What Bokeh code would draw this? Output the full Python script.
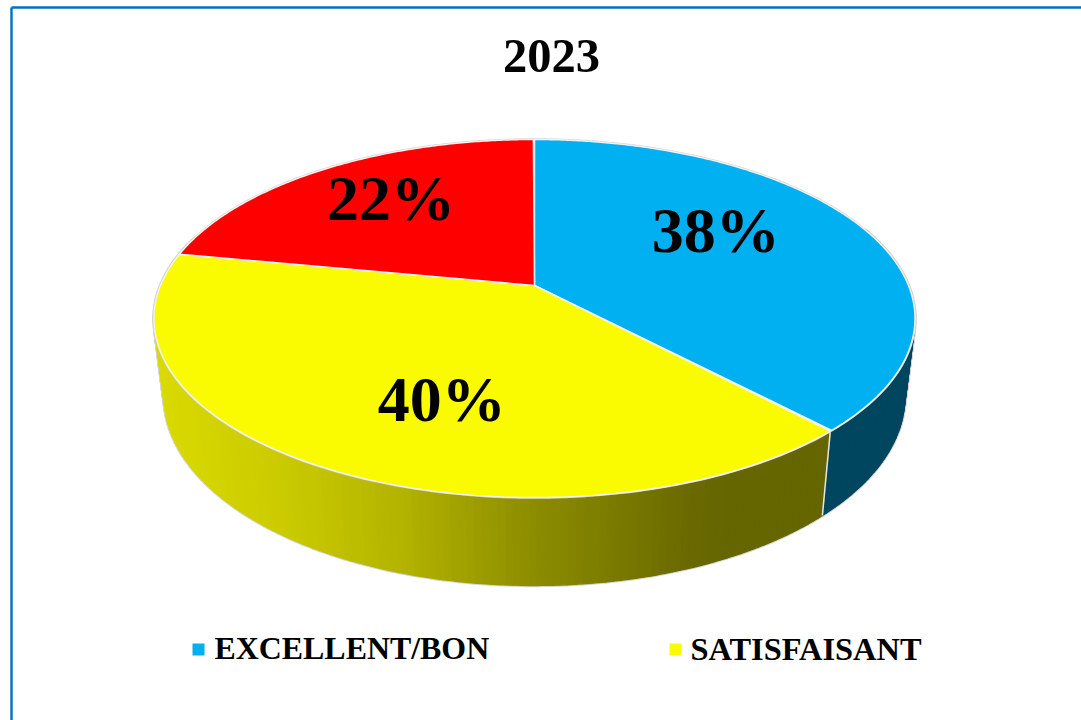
from bokeh.plotting import figure
from bokeh.models import ColumnDataSource, Range1d
from bokeh.core.properties import value
from bokeh.embed import file_html
from bokeh.resources import INLINE
import numpy as np

# data
TITLE = "2023"
CATEGORIES = ["EXCELLENT/BON", "SATISFAISANT", "MOYEN"]
VALUES = [38, 40, 22]
LABELS = ["38%", "40%", "22%"]
LEGEND_SHOWN = ["EXCELLENT/BON", "SATISFAISANT"]
COLORS = ["#00B0F0", "#FBFB00", "#FF0000"]
SIDE_COLOR_BLUE = "#00465F"

# perspective model of the disc (style/geometry)
CX = 534.0
PERSP = 0.1844
TOP = dict(k=374.0, a=-120.4, b=285.0)
BOT = dict(k=364.0, a=-115.6, b=361.5)
FONT = value("Liberation Serif")


def project(theta_deg, r, m):
    t = np.radians(np.asarray(theta_deg, dtype=float))
    u, v = r * np.sin(t), r * np.cos(t)
    d = 1 + PERSP * v
    return CX + m["k"] * u / d, (m["a"] * v + m["b"]) / d


def yellow_shade(x):
    xs = [160, 300, 400, 530, 690, 730, 830]
    cs = [218, 200, 180, 142, 106, 102, 102]
    return float(np.interp(x, xs, cs))


p = figure(width=1081, height=720, output_backend="svg", toolbar_location=None,
           x_range=Range1d(0, 1081), y_range=Range1d(720, 0), min_border=0,
           background_fill_color="white", border_fill_color="white",
           outline_line_color=None,
           styles={"position": "absolute", "left": "0px", "top": "0px"})
p.axis.visible = False
p.grid.visible = False

# outer frame of the chart
p.multi_line([[11, 11], [11, 1081]], [[720, 7], [7, 7]], line_color="#0070C0", line_width=2.4)

# slice angles
cum = np.cumsum([0] + VALUES) / sum(VALUES) * 360.0
start, end = cum[:-1], cum[1:]
split = end[0]

# side wall: thin strips, flat for the blue slice and shaded for the yellow one
STEP = 1.0
edges = np.r_[np.arange(70.0, split, STEP), np.arange(split, 287.0, STEP)]
xs, ys, cols = [], [], []
for t0, t1 in zip(edges[:-1], edges[1:]):
    x0, y0 = project(t0, 1, TOP)
    x1, y1 = project(t1, 1, TOP)
    x2, y2 = project(t1, 1, BOT)
    x3, y3 = project(t0, 1, BOT)
    xs.append([x0, x1, x2, x3])
    ys.append([y0, y1, y2, y3])
    if t0 < split:
        cols.append(SIDE_COLOR_BLUE)
    else:
        s = int(round(yellow_shade((x0 + x3) / 2)))
        cols.append(f"#{s:02x}{s:02x}00")
side = ColumnDataSource(dict(xs=xs, ys=ys, c=cols))
p.patches("xs", "ys", source=side, fill_color="#D4D4D4", line_color="#D4D4D4", line_width=3.4)
p.patches("xs", "ys", source=side, fill_color="c", line_color="c", line_width=1.4)

# divider on the side wall
dx0, dy0 = project(split, 1, TOP)
dx1, dy1 = project(split, 1, BOT)
p.line([dx0, dx1], [dy0, dy1], line_color="#E6E6E6", line_width=1.5)

# rim of the top face
rim_x, rim_y = project(np.linspace(0, 360, 361), 1, TOP)
p.patch(rim_x, rim_y, fill_color=None, line_color="#CFCFCF", line_width=2.5)

# top faces
fx, fy = [], []
for s, e in zip(start, end):
    ax, ay = project(np.arange(s, e + 0.01, 0.5), 1, TOP)
    cx0, cy0 = project(0.0, 0.0, TOP)
    fx.append(np.r_[cx0, ax].tolist())
    fy.append(np.r_[cy0, ay].tolist())
p.patches(fx, fy, fill_color=COLORS, line_color="#F2F2F2", line_width=1.5)

# data labels
mid = (start + end) / 2
lx, ly = project(mid, 0.55, TOP)
p.text(lx, ly, text=LABELS, x_offset=[-3, 16, -22], y_offset=[-21, 23, -19],
       text_font=FONT, text_font_style="bold", text_font_size="64px",
       text_color="black", text_align="center", text_baseline="middle")

# title
p.text([551], [55], text=[TITLE], text_font=FONT, text_font_style="bold",
       text_font_size="48.5px", text_color="black", text_align="center", text_baseline="middle")

# legend
lg_x = [198, 675]
lg_tx = [214, 690]
p.scatter(lg_x, [649, 649], marker="square", size=12,
          fill_color=COLORS[:2], line_color=None)
p.text(lg_tx, [648, 648], text=LEGEND_SHOWN, text_font=FONT, text_font_style="bold",
       text_font_size=["31.9px", "32.4px"], text_color="black", text_align="left", text_baseline="middle")

open("out.html", "w").write(file_html(p, INLINE))
